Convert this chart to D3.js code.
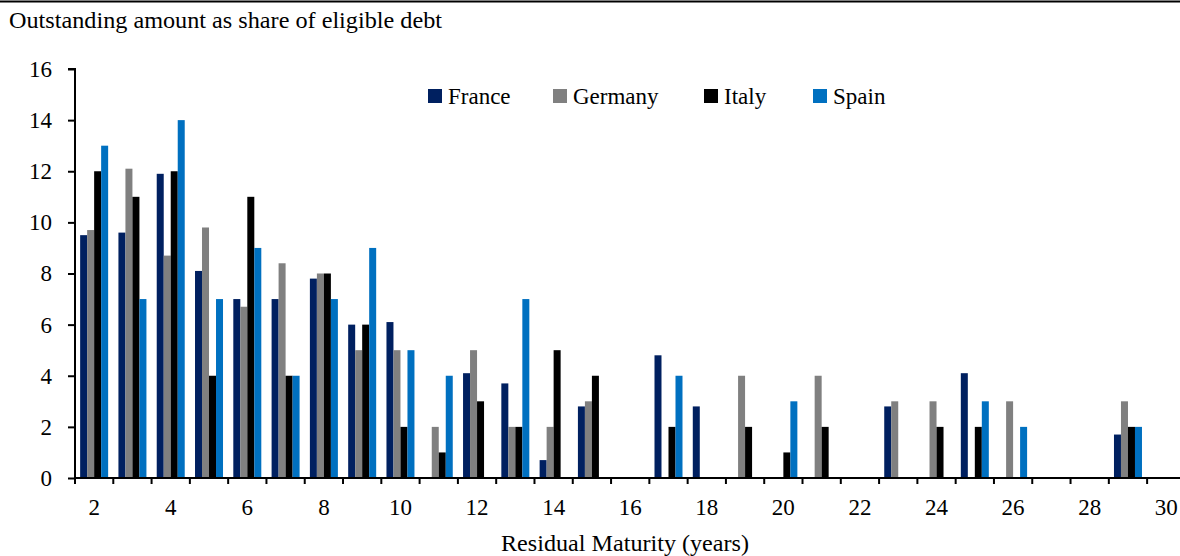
<!DOCTYPE html>
<html>
<head>
<meta charset="utf-8">
<script src="https://cdn.jsdelivr.net/npm/d3@7"></script>
<style>
  html, body { margin: 0; padding: 0; background: #fff; }
  svg { display: block; }
</style>
</head>
<body>
<svg id="chart" width="1180" height="556"></svg>
<script>
// ---- data ----
const categories = [2,3,4,5,6,7,8,9,10,11,12,13,14,15,16,17,18,19,20,21,22,23,24,25,26,27,28,29,30];
const seriesNames = ["France", "Germany", "Italy", "Spain"];
const france  = [9.5, 9.6, 11.9, 8.1, 7.0, 7.0, 7.8, 6.0, 6.1, 0,   4.1, 3.7, 0.7, 2.8, 0, 4.8, 2.8, 0, 0, 0, 0, 2.8, 0, 4.1, 0, 0, 0, 1.7, 0];
const germany = [9.7, 12.1, 8.7, 9.8, 6.7, 8.4, 8.0, 5.0, 5.0, 2.0, 5.0, 2.0, 2.0, 3.0, 0, 0,   0,   4, 0, 4, 0, 3.0, 3, 0,   3, 0, 0, 3.0, 0];
const italy   = [12, 11, 12, 4, 11, 4, 8, 6, 2, 1, 3, 2, 5, 4, 0, 2, 0, 2, 1, 2, 0, 0, 2, 2, 0, 0, 0, 2, 0];
const spain   = [13, 7, 14, 7, 9, 4, 7, 9, 5, 4, 0, 7, 0, 0, 0, 4, 0, 0, 3, 0, 0, 0, 0, 3, 2, 0, 0, 2, 0];
const yTicks = [0, 2, 4, 6, 8, 10, 12, 14, 16];
const xTickLabels = [2,4,6,8,10,12,14,16,18,20,22,24,26,28,30];
const colors = ["#002060", "#808080", "#000000", "#0070C0"];
const titleText = "Outstanding amount as share of eligible debt";
const xTitleText = "Residual Maturity (years)";

const seriesValues = [france, germany, italy, spain];

// ---- layout ----
const FONT = "'Liberation Serif', 'Times New Roman', serif";
const svg = d3.select("#chart");
const mLeft = 75, mBottom = 478, mTop = 69;
const step = 38.29;

const x = d3.scaleBand().domain(categories).range([mLeft, mLeft + categories.length * step]).padding(0);
const x1 = d3.scaleBand().domain(seriesNames).range([0, x.bandwidth()]).paddingInner(0).paddingOuter(0.735);
const y = d3.scaleLinear().domain([0, 16]).range([mBottom, mTop]);
const color = d3.scaleOrdinal().domain(seriesNames).range(colors);

// top border
svg.append("line").attr("x1", 0).attr("x2", 1180).attr("y1", 1.5).attr("y2", 1.5)
  .attr("stroke", "#000").attr("stroke-width", 2);

// title
svg.append("text").attr("x", 9).attr("y", 28).attr("fill", "#000")
  .style("font-family", FONT).style("font-size", "23px")
  .attr("textLength", 433).attr("lengthAdjust", "spacingAndGlyphs")
  .text(titleText);

// bars
const rows = [];
seriesNames.forEach((s, i) => {
  categories.forEach((c, j) => {
    if (seriesValues[i][j] > 0) rows.push({ s, c, v: seriesValues[i][j] });
  });
});
svg.append("g").selectAll("rect").data(rows).join("rect")
  .attr("x", d => x(d.c) + x1(d.s))
  .attr("width", x1.bandwidth())
  .attr("y", d => y(d.v))
  .attr("height", d => y(0) - y(d.v))
  .attr("fill", d => color(d.s));

// y axis
const yAxis = svg.append("g").attr("transform", `translate(${mLeft},0)`)
  .call(d3.axisLeft(y).tickValues(yTicks).tickSize(7).tickPadding(16).tickFormat(d3.format("d")));
yAxis.select(".domain").attr("stroke-width", 2).attr("d", `M-7,${mTop}H0V${mBottom}`);
yAxis.selectAll(".tick line").attr("stroke-width", 2);
yAxis.selectAll("text").style("font-family", FONT).style("font-size", "23px").attr("fill", "#000");

// x axis: line + boundary ticks
const xg = svg.append("g");
xg.append("line").attr("x1", mLeft - 1).attr("x2", 1180).attr("y1", mBottom).attr("y2", mBottom)
  .attr("stroke", "#000").attr("stroke-width", 2);
xg.selectAll("line.tk").data(categories).join("line").attr("class", "tk")
  .attr("x1", d => x(d)).attr("x2", d => x(d))
  .attr("y1", mBottom).attr("y2", mBottom + 6)
  .attr("stroke", "#000").attr("stroke-width", 2);

const xAxis = svg.append("g").attr("transform", `translate(0,${mBottom})`)
  .call(d3.axisBottom(x).tickValues(xTickLabels).tickSize(0).tickPadding(21));
xAxis.select(".domain").remove();
xAxis.selectAll("text").style("font-family", FONT).style("font-size", "23px").attr("fill", "#000");

// x title
svg.append("text").attr("x", 625).attr("y", 551).attr("text-anchor", "middle").attr("fill", "#000")
  .style("font-family", FONT).style("font-size", "23px")
  .attr("textLength", 248).attr("lengthAdjust", "spacingAndGlyphs")
  .text(xTitleText);

// legend
const legendX = [428, 553, 704, 813];
const lg = svg.append("g").selectAll("g").data(seriesNames).join("g")
  .attr("transform", (d, i) => `translate(${legendX[i]},89)`);
lg.append("rect").attr("width", 14).attr("height", 14).attr("fill", d => color(d));
lg.append("text").attr("x", 20).attr("y", 14.5).attr("fill", "#000")
  .style("font-family", FONT).style("font-size", "23px").text(d => d);
</script>
</body>
</html>
